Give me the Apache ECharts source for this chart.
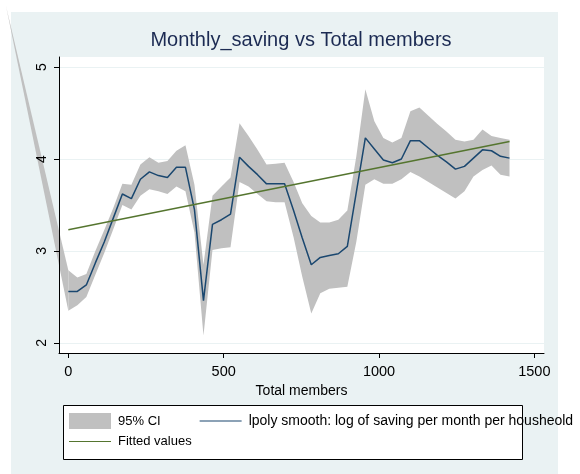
<!DOCTYPE html>
<html>
<head>
<meta charset="utf-8">
<script src="https://cdn.jsdelivr.net/npm/echarts@6/dist/echarts.min.js"></script>
<style>
  html, body { margin: 0; padding: 0; background: #fff; }
  #chart { width: 580px; height: 474px; }
</style>
</head>
<body>
<div id="chart"></div>
<script>
// lpoly grid points (Total members)
var members = [0, 29, 58, 87, 116, 145, 174, 203, 232, 261, 290, 319, 348, 377, 406, 435, 464,
  493, 522, 551, 580, 609, 638, 667, 696, 725, 753, 782, 811, 840, 869, 898, 927, 956, 985,
  1014, 1043, 1072, 1101, 1130, 1159, 1188, 1217, 1246, 1275, 1304, 1333, 1362, 1391, 1420];
var smooth = [2.56, 2.56, 2.63, 2.87, 3.10, 3.36, 3.62, 3.57, 3.78, 3.86, 3.82, 3.80, 3.91,
  3.91, 3.45, 2.46, 3.29, 3.34, 3.40, 4.02, 3.92, 3.83, 3.73, 3.73, 3.73, 3.44, 3.14, 2.85,
  2.93, 2.95, 2.97, 3.05, 3.64, 4.23, 4.11, 3.99, 3.96, 4.00, 4.20, 4.20, 4.12, 4.04, 3.97,
  3.89, 3.92, 4.01, 4.10, 4.09, 4.03, 4.01];
var ciUpper = [2.79, 2.71, 2.75, 3.00, 3.23, 3.47, 3.73, 3.72, 3.94, 4.02, 3.96, 3.98, 4.09,
  4.15, 3.72, 2.85, 3.60, 3.70, 3.80, 4.39, 4.25, 4.10, 3.94, 3.95, 3.96, 3.75, 3.52, 3.38,
  3.31, 3.31, 3.34, 3.44, 4.03, 4.76, 4.41, 4.23, 4.18, 4.23, 4.52, 4.56, 4.47, 4.38, 4.30,
  4.21, 4.19, 4.21, 4.32, 4.25, 4.23, 4.21];
var ciLower = [2.35, 2.41, 2.50, 2.74, 2.98, 3.24, 3.50, 3.45, 3.60, 3.67, 3.65, 3.62, 3.70,
  3.65, 3.20, 2.08, 3.01, 3.03, 3.04, 3.75, 3.70, 3.62, 3.54, 3.53, 3.53, 3.15, 2.72, 2.32,
  2.54, 2.59, 2.60, 2.61, 3.10, 3.72, 3.78, 3.73, 3.73, 3.78, 3.86, 3.81, 3.75, 3.69, 3.63,
  3.57, 3.65, 3.81, 3.88, 3.93, 3.83, 3.81];
var fitX = [0, 1420];
var fitY = [3.23, 4.19];
var yTicks = [2, 3, 4, 5];
var xTicks = [0, 500, 1000, 1500];

var smoothName = 'lpoly smooth: log of saving per month per housheold';
var lineIcon = 'path://M0,0H42V1H0Z';

function pairs(xs, ys) {
  return xs.map(function (x, i) { return [x, ys[i]]; });
}

var chart = echarts.init(document.getElementById('chart'));

var option = {
  backgroundColor: '#fff',
  animation: false,
  textStyle: { fontFamily: 'Liberation Sans' },
  title: {
    text: 'Monthly_saving vs Total members',
    left: 301,
    top: 30,
    padding: 0,
    textAlign: 'center',
    textStyle: { fontSize: 20, fontWeight: 'normal', color: '#1c2b53' }
  },
  graphic: [
    { type: 'rect', z: -10, shape: { x: 11, y: 12, width: 547, height: 462 }, style: { fill: '#eaf2f3' } },
    { type: 'rect', z: -5, shape: { x: 63.5, y: 405.5, width: 459, height: 54 },
      style: { fill: '#fff', stroke: '#000', lineWidth: 1 } }
  ],
  grid: {
    left: 59, right: 36, top: 57, bottom: 121,
    show: true, backgroundColor: '#fff', borderWidth: 0
  },
  legend: [
    {
      left: 69, top: 413, padding: 0, itemWidth: 42, itemHeight: 16, itemGap: 39,
      selectedMode: false,
      textStyle: { fontSize: 13, color: '#000', padding: [0, 0, 0, 2] },
      data: [
        { name: '95% CI', icon: 'rect', itemStyle: { color: '#c0c0c0', opacity: 1 } },
        { name: smoothName, icon: lineIcon, itemStyle: { color: '#1a476f' },
          textStyle: { fontSize: 14 } }
      ]
    },
    {
      left: 69, top: 435, padding: 0, itemWidth: 42, itemHeight: 16,
      selectedMode: false,
      textStyle: { fontSize: 13, color: '#000', padding: [0, 0, 0, 2] },
      data: [{ name: 'Fitted values', icon: lineIcon, itemStyle: { color: '#55752f' } }]
    }
  ],
  xAxis: {
    type: 'value', min: -30, max: 1531, z: 5,
    name: 'Total members', nameLocation: 'middle', nameGap: 25,
    nameTextStyle: { fontSize: 14, color: '#000' },
    axisLine: { show: true, onZero: false, lineStyle: { color: '#000', width: 1 } },
    axisTick: { show: true, length: 5, customValues: xTicks, lineStyle: { color: '#000' } },
    axisLabel: {
      customValues: xTicks, margin: 11, fontSize: 14.5, color: '#000',
      formatter: function (v) { return String(v); }
    },
    splitLine: { show: false }
  },
  yAxis: [
    {
      type: 'value', min: 1.89, max: 5.11, z: 5,
      axisLine: { show: true, onZero: false, lineStyle: { color: '#000', width: 1 } },
      axisTick: { show: true, length: 5, customValues: yTicks, lineStyle: { color: '#000' } },
      axisLabel: { customValues: yTicks, rotate: 90, margin: 10, fontSize: 14, color: '#000' },
      splitLine: { show: false }
    },
    {
      // gridlines only, kept under the data
      type: 'value', min: 1.89, max: 5.11, z: 0, position: 'left',
      axisLine: { show: false },
      axisTick: { show: false, customValues: yTicks },
      axisLabel: { show: false, customValues: yTicks },
      splitLine: { show: true, lineStyle: { color: '#eaf2f3', width: 1 } }
    }
  ],
  series: [
    {
      name: '95% CI', type: 'custom', silent: true,
      itemStyle: { color: '#c0c0c0' },
      data: members.map(function (x, i) { return [x, ciLower[i], ciUpper[i]]; }),
      encode: { x: 0, y: [1, 2] },
      renderItem: function (params, api) {
        if (params.dataIndex !== 0) return null;
        var top = members.map(function (x, i) { return api.coord([x, ciUpper[i]]); });
        var bottom = members.map(function (x, i) { return api.coord([x, ciLower[i]]); }).reverse();
        return {
          type: 'polygon',
          shape: { points: top.concat(bottom) },
          style: { fill: '#c0c0c0' }
        };
      }
    },
    {
      name: smoothName, type: 'line', symbol: 'none', color: '#1a476f',
      data: pairs(members, smooth),
      lineStyle: { color: '#1a476f', width: 1.5 }
    },
    {
      name: 'Fitted values', type: 'line', symbol: 'none', color: '#55752f',
      data: pairs(fitX, fitY),
      lineStyle: { color: '#55752f', width: 1.5 }
    }
  ]
};

chart.setOption(option);

// stray wedge of the CI fill running off to the top-left corner, as in the source image
var pLow = chart.convertToPixel({ gridIndex: 0 }, [members[0], ciLower[0]]);
var pUp = chart.convertToPixel({ gridIndex: 0 }, [members[0], ciUpper[0]]);
option.graphic.push({
  type: 'polygon', z: 1,
  shape: { points: [[6, 6], pLow, pUp] },
  style: { fill: '#c0c0c0' }
});
chart.setOption({ graphic: option.graphic });
</script>
</body>
</html>
